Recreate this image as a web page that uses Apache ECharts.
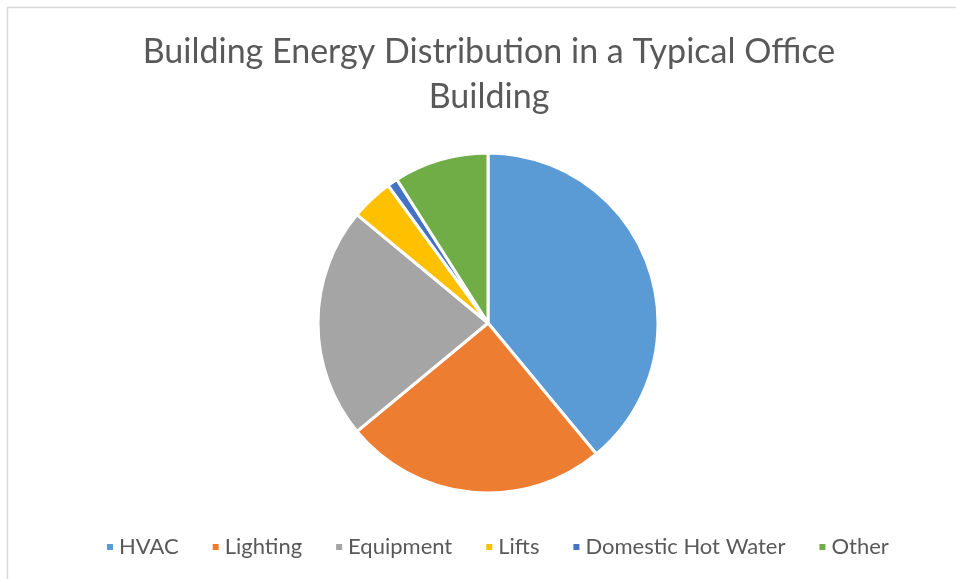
<!DOCTYPE html>
<html>
<head>
<meta charset="utf-8">
<style>
  html, body { margin: 0; padding: 0; background: #ffffff; }
  #chart { width: 956px; height: 579px; }
</style>
<script src="https://cdn.jsdelivr.net/npm/echarts@6/dist/echarts.min.js"></script>
</head>
<body>
<div id="chart"></div>
<script>
// Share of energy use by end use (%)
const categories = ['HVAC', 'Lighting', 'Equipment', 'Lifts', 'Domestic Hot Water', 'Other'];
const shares = [39, 25, 22, 4, 1, 9];
const palette = ['#5B9BD5', '#ED7D31', '#A5A5A5', '#FFC000', '#4472C4', '#70AD47'];

const chart = echarts.init(document.getElementById('chart'), null, { renderer: 'canvas' });

chart.setOption({
  backgroundColor: '#ffffff',
  animation: false,
  color: palette,
  title: {
    text: 'Building Energy Distribution in a Typical Office\nBuilding',
    left: 484,
    textAlign: 'center',
    top: 25,
    textStyle: {
      fontFamily: 'Lato',
      fontWeight: 'normal',
      fontSize: 34,
      lineHeight: 45,
      color: '#595959'
    }
  },
  legend: {
    top: 531,
    left: 100,
    icon: 'rect',
    itemWidth: 8,
    itemHeight: 8,
    itemGap: 32,
    textStyle: {
      fontFamily: 'Lato',
      fontSize: 22,
      color: '#595959'
    },
    data: categories
  },
  graphic: [
    {
      type: 'polyline',
      shape: { points: [[7.5, 579], [7.5, 7.5], [956, 7.5]] },
      style: { stroke: '#d9d9d9', lineWidth: 1.5, fill: null },
      silent: true
    }
  ],
  series: [{
    type: 'pie',
    center: [488, 323],
    radius: [0, 170],
    startAngle: 90,
    clockwise: true,
    label: { show: false },
    labelLine: { show: false },
    emphasis: { disabled: true },
    itemStyle: { borderColor: '#ffffff', borderWidth: 3 },
    data: categories.map((name, i) => ({ name, value: shares[i] }))
  }]
});
</script>
</body>
</html>
